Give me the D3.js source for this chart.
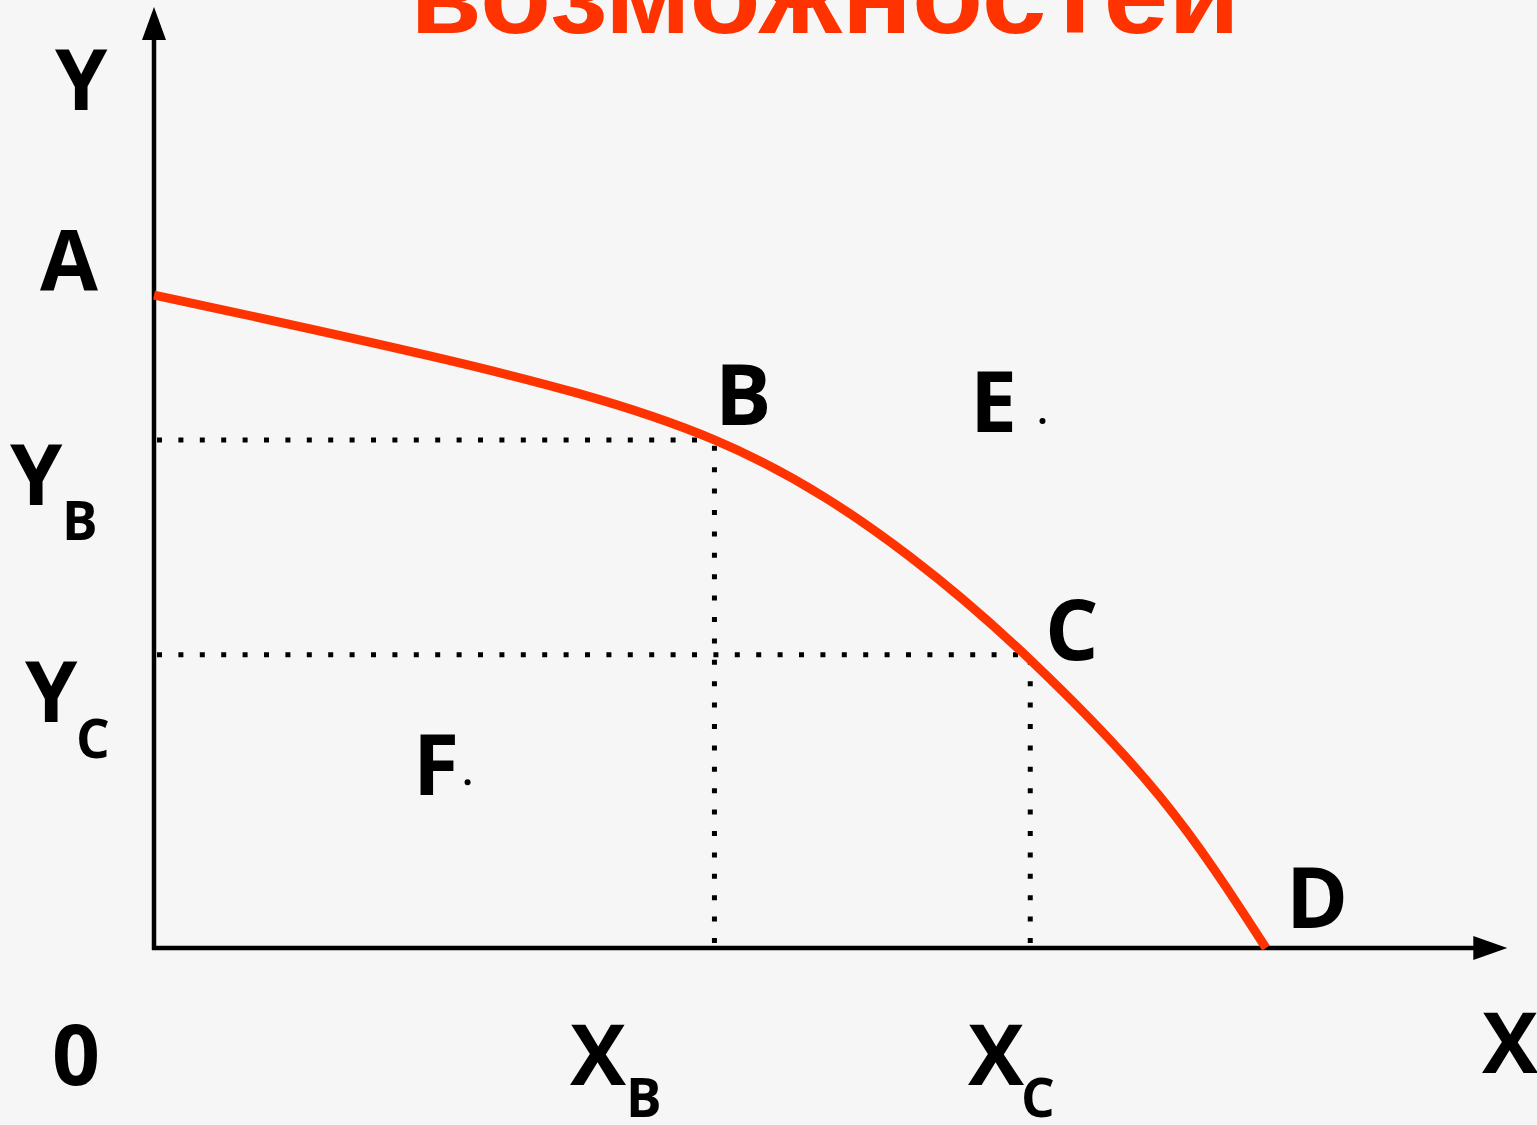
<!DOCTYPE html>
<html lang="ru">
<head>
<meta charset="utf-8">
<title>Кривая производственных возможностей</title>
<script src="https://cdn.jsdelivr.net/npm/d3@7"></script>
<style>
  html, body { margin: 0; padding: 0; background: #f6f6f6; overflow: hidden; }
  svg { display: block; }
  .lbl { font-family: "Open Sans", sans-serif; font-weight: 700; fill: #000; }
</style>
</head>
<body>
<div id="chart"></div>
<script>
// curve of production possibilities, x and y in units where A = 100, D = 100
var curveX = [0, 25, 50.4, 68, 79, 90.5, 100];
var curveY = [100, 90.6, 77.8, 59.9, 43.8, 23.1, 0];

// points B and C with their guide lines
var pointNames = ["B", "C"];
var pointX = [50.4, 78.8];
var pointY = [77.8, 44.9];

// loose points off the curve
var extraNames = ["E", "F"];
var extraX = [79.9, 28.2];
var extraY = [80.7, 25.4];

var axisMaxX = 121.7;
var axisMaxY = 144.1;

var titleText = "возможностей";

var W = 1537, H = 1125;

var x = d3.scaleLinear().domain([0, 100]).range([154, 1266]);
var y = d3.scaleLinear().domain([0, 100]).range([948, 295]);

var svg = d3.select("#chart").append("svg")
  .attr("width", W)
  .attr("height", H);

svg.append("rect").attr("width", W).attr("height", H).attr("fill", "#f6f6f6");

// title, cut off by the top edge
svg.append("text")
  .attr("x", 410)
  .attr("y", 33)
  .attr("textLength", 830)
  .attr("lengthAdjust", "spacingAndGlyphs")
  .style("font-family", "'Liberation Sans', Arial, sans-serif")
  .style("font-weight", "700")
  .style("font-size", "112px")
  .attr("fill", "#ff3300")
  .text(titleText);

// dotted guides
var guides = svg.append("g")
  .attr("stroke", "#000")
  .attr("stroke-width", 5)
  .attr("stroke-dasharray", "5,16.4");

pointNames.forEach(function(n, i) {
  guides.append("line")
    .attr("x1", x(0) + 3).attr("y1", y(pointY[i]))
    .attr("x2", x(pointX[i])).attr("y2", y(pointY[i]));
  guides.append("line")
    .attr("x1", x(pointX[i])).attr("y1", y(0) - 5)
    .attr("x2", x(pointX[i])).attr("y2", y(pointY[i]) + 4);
});

// axes
svg.append("line")
  .attr("x1", x(0)).attr("y1", y(0) + 2)
  .attr("x2", x(0)).attr("y2", y(axisMaxY) + 30)
  .attr("stroke", "#000").attr("stroke-width", 4.5);
svg.append("path")
  .attr("d", "M" + x(0) + "," + y(axisMaxY) + " L" + (x(0) - 12) + "," + (y(axisMaxY) + 33) +
        " L" + (x(0) + 12) + "," + (y(axisMaxY) + 33) + "Z")
  .attr("fill", "#000");

svg.append("line")
  .attr("x1", x(0) - 2).attr("y1", y(0))
  .attr("x2", x(axisMaxX) - 30).attr("y2", y(0))
  .attr("stroke", "#000").attr("stroke-width", 4.5);
svg.append("path")
  .attr("d", "M" + x(axisMaxX) + "," + y(0) + " L" + (x(axisMaxX) - 34) + "," + (y(0) - 12) +
        " L" + (x(axisMaxX) - 34) + "," + (y(0) + 12) + "Z")
  .attr("fill", "#000");

// the curve
var line = d3.line()
  .x(function(d) { return x(d[0]); })
  .y(function(d) { return y(d[1]); })
  .curve(d3.curveNatural);

svg.append("path")
  .datum(d3.zip(curveX, curveY))
  .attr("d", line)
  .attr("fill", "none")
  .attr("stroke", "#ff3300")
  .attr("stroke-width", 9);

// dots next to E and F
svg.selectAll("circle.extra")
  .data(extraNames)
  .enter().append("circle")
  .attr("class", "extra")
  .attr("cx", function(d, i) { return x(extraX[i]); })
  .attr("cy", function(d, i) { return y(extraY[i]); })
  .attr("r", 3)
  .attr("fill", "#000");

// labels
function label(t, lx, ly, size) {
  svg.append("text")
    .attr("class", "lbl")
    .attr("x", lx).attr("y", ly)
    .style("font-size", (size || 84) + "px")
    .text(t);
}

label("Y", 55, 110);
label("A", 40, 290);
label("Y", 10, 505); label("B", 62, 540, 53);
label("Y", 25, 722); label("C", 76, 758, 53);
label("B", 715, 425);
label("E", 970, 432);
label("C", 1045, 660);
label("F", 413, 795);
label("D", 1286, 928);
label("0", 52, 1085);
label("X", 570, 1085); label("B", 626, 1117, 53);
label("X", 968, 1085); label("C", 1021, 1117, 53);
label("X", 1482, 1073);
</script>
</body>
</html>
